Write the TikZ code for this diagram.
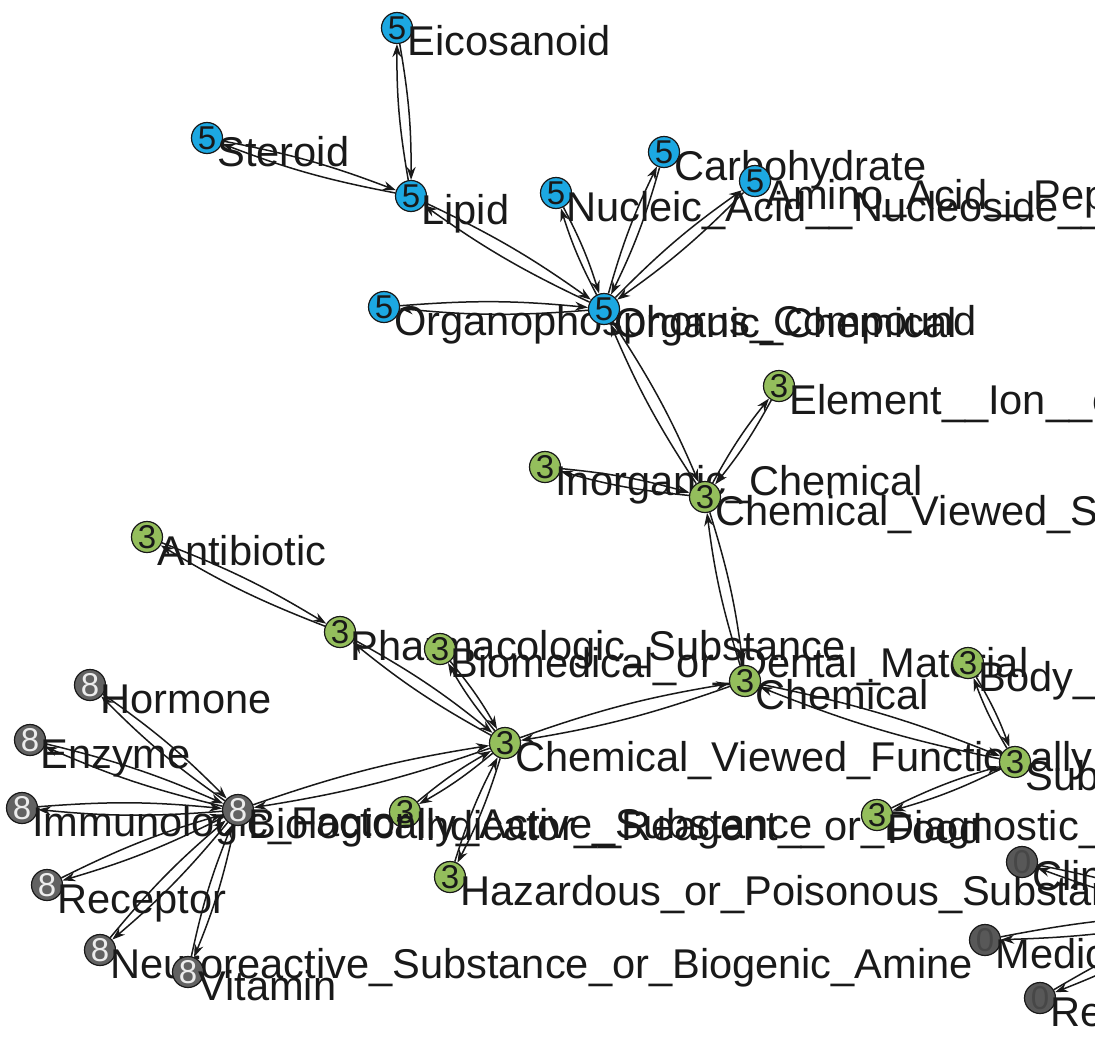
\documentclass[tikz,border=0pt]{standalone}
\usepackage{fontspec}
\setmainfont{Liberation Sans}
\usepackage{tikz}
\usetikzlibrary{arrows.meta,calc,backgrounds}
\definecolor{ink}{RGB}{25,25,25}
\definecolor{lipidblue}{RGB}{28,168,226}
\definecolor{chemgreen}{RGB}{148,190,92}
\definecolor{bioslate}{RGB}{98,98,98}
\definecolor{devslate}{RGB}{88,88,88}
\tikzset{
  link/.style={line width=0.75pt,ink,bend left=5,-{Stealth[length=6.5pt,width=4.5pt]}},
  vtx/.style={circle,draw=ink,line width=0.6pt,minimum size=15.5pt,inner sep=0pt,
    font=\fontsize{16.5}{16.5}\selectfont},
  bluenode/.style={vtx,fill=lipidblue,text=ink},
  greennode/.style={vtx,fill=chemgreen,text=ink},
  graynode/.style={vtx,fill=bioslate,text=white!85!gray},
  darknode/.style={vtx,fill=devslate,text=ink!80},
  tagtext/.style={anchor=base west,inner sep=0pt,text=ink,
    font=\fontsize{20.8}{20.8}\selectfont}
}

\begin{document}
\begin{tikzpicture}[x=0.5pt,y=-0.5pt]
  \useasboundingbox (0,0) rectangle (1095,1038);

  % organic chemicals (5)
  \node[bluenode] (eico) at (397,28) {5};
  \node[tagtext] (eico-t) at ($(eico)+(10,28)$) {Eicosanoid};
  \node[bluenode] (ster) at (207,138) {5};
  \node[tagtext] (ster-t) at ($(ster)+(10,28)$) {Steroid};
  \node[bluenode] (lipid) at (411,196) {5};
  \node[tagtext] (lipid-t) at ($(lipid)+(10,28)$) {Lipid};
  \node[bluenode] (nucl) at (556,193) {5};
  \node[tagtext] (nucl-t) at ($(nucl)+(10,28)$) {Nucleic\_Acid\_\_Nucleoside\_\_or\_Nucleotide};
  \node[bluenode] (carb) at (664,152) {5};
  \node[tagtext] (carb-t) at ($(carb)+(10,28)$) {Carbohydrate};
  \node[bluenode] (amino) at (755,181) {5};
  \node[tagtext] (amino-t) at ($(amino)+(10,28)$) {Amino\_Acid\_\_Peptide\_\_or\_Protein};
  \node[bluenode] (orgph) at (384,307) {5};
  \node[tagtext] (orgph-t) at ($(orgph)+(10,28)$) {Organophosphorus\_Compound};
  \node[bluenode] (organ) at (604,309) {5};
  \node[tagtext] (organ-t) at ($(organ)+(10,28)$) {Organic\_Chemical};

  % chemicals (3)
  \node[greennode] (elem) at (779,386) {3};
  \node[tagtext] (elem-t) at ($(elem)+(10,28)$) {Element\_\_Ion\_\_or\_Isotope};
  \node[greennode] (inorg) at (545,467) {3};
  \node[tagtext] (inorg-t) at ($(inorg)+(10,28)$) {Inorganic\_Chemical};
  \node[greennode] (cvs) at (705,497) {3};
  \node[tagtext] (cvs-t) at ($(cvs)+(10,28)$) {Chemical\_Viewed\_Structurally};
  \node[greennode] (antib) at (147,537) {3};
  \node[tagtext] (antib-t) at ($(antib)+(10,28)$) {Antibiotic};
  \node[greennode] (pharm) at (340,632) {3};
  \node[tagtext] (pharm-t) at ($(pharm)+(10,28)$) {Pharmacologic\_Substance};
  \node[greennode] (biomed) at (440,649) {3};
  \node[tagtext] (biomed-t) at ($(biomed)+(10,28)$) {Biomedical\_or\_Dental\_Material};
  \node[greennode] (chem) at (745,681) {3};
  \node[tagtext] (chem-t) at ($(chem)+(10,28)$) {Chemical};
  \node[greennode] (bodys) at (968,663) {3};
  \node[tagtext] (bodys-t) at ($(bodys)+(10,28)$) {Body\_Substance};
  \node[greennode] (cvf) at (505,743) {3};
  \node[tagtext] (cvf-t) at ($(cvf)+(10,28)$) {Chemical\_Viewed\_Functionally};
  \node[greennode] (subst) at (1015,762) {3};
  \node[tagtext] (subst-t) at ($(subst)+(10,28)$) {Substance};
  \node[greennode] (indic) at (405,812) {3};
  \node[tagtext] (indic-t) at ($(indic)+(10,28)$) {Indicator\_\_Reagent\_\_or\_Diagnostic\_Aid};
  \node[greennode] (food) at (877,815) {3};
  \node[tagtext] (food-t) at ($(food)+(10,28)$) {Food};
  \node[greennode] (hazard) at (450,877) {3};
  \node[tagtext] (hazard-t) at ($(hazard)+(10,28)$) {Hazardous\_or\_Poisonous\_Substance};

  % biologically active (8)
  \node[graynode] (horm) at (90,685) {8};
  \node[tagtext] (horm-t) at ($(horm)+(10,28)$) {Hormone};
  \node[graynode] (enz) at (30,740) {8};
  \node[tagtext] (enz-t) at ($(enz)+(10,28)$) {Enzyme};
  \node[graynode] (immun) at (22,808) {8};
  \node[tagtext] (immun-t) at ($(immun)+(10,28)$) {Immunologic\_Factor};
  \node[graynode] (bas) at (238,810) {8};
  \node[tagtext] (bas-t) at ($(bas)+(10,28)$) {Biologically\_Active\_Substance};
  \node[graynode] (recep) at (47,885) {8};
  \node[tagtext] (recep-t) at ($(recep)+(10,28)$) {Receptor};
  \node[graynode] (neuro) at (100,950) {8};
  \node[tagtext] (neuro-t) at ($(neuro)+(10,28)$) {Neuroreactive\_Substance\_or\_Biogenic\_Amine};
  \node[graynode] (vitam) at (188,972) {8};
  \node[tagtext] (vitam-t) at ($(vitam)+(10,28)$) {Vitamin};

  % devices and drugs (0)
  \node[darknode] (clin) at (1022,862) {0};
  \node[tagtext] (clin-t) at ($(clin)+(10,28)$) {Clinical\_Drug};
  \node[darknode] (meddev) at (985,940) {0};
  \node[tagtext] (meddev-t) at ($(meddev)+(10,28)$) {Medical\_Device};
  \node[darknode] (resdev) at (1040,998) {0};
  \node[tagtext] (resdev-t) at ($(resdev)+(10,28)$) {Research\_Device};
  \coordinate (offhub) at (1210,915);

  \begin{scope}[on background layer]
    \draw[link] (eico) to (lipid);   \draw[link] (lipid) to (eico);
    \draw[link] (ster) to (lipid);   \draw[link] (lipid) to (ster);
    \draw[link] (lipid) to (organ);  \draw[link] (organ) to (lipid);
    \draw[link] (nucl) to (organ);   \draw[link] (organ) to (nucl);
    \draw[link] (carb) to (organ);   \draw[link] (organ) to (carb);
    \draw[link] (amino) to (organ);  \draw[link] (organ) to (amino);
    \draw[link] (orgph) to (organ);  \draw[link] (organ) to (orgph);
    \draw[link] (organ) to (cvs);    \draw[link] (cvs) to (organ);
    \draw[link] (inorg) to (cvs);    \draw[link] (cvs) to (inorg);
    \draw[link] (elem) to (cvs);     \draw[link] (cvs) to (elem);
    \draw[link] (cvs) to (chem);     \draw[link] (chem) to (cvs);
    \draw[link] (chem) to (cvf);     \draw[link] (cvf) to (chem);
    \draw[link] (chem) to (subst);   \draw[link] (subst) to (chem);
    \draw[link] (bodys) to (subst);  \draw[link] (subst) to (bodys);
    \draw[link] (food) to (subst);   \draw[link] (subst) to (food);
    \draw[link] (antib) to (pharm);  \draw[link] (pharm) to (antib);
    \draw[link] (pharm) to (cvf);    \draw[link] (cvf) to (pharm);
    \draw[link] (biomed) to (cvf);   \draw[link] (cvf) to (biomed);
    \draw[link] (indic) to (cvf);    \draw[link] (cvf) to (indic);
    \draw[link] (hazard) to (cvf);   \draw[link] (cvf) to (hazard);
    \draw[link] (bas) to (cvf);      \draw[link] (cvf) to (bas);
    \draw[link] (horm) to (bas);     \draw[link] (bas) to (horm);
    \draw[link] (enz) to (bas);      \draw[link] (bas) to (enz);
    \draw[link] (immun) to (bas);    \draw[link] (bas) to (immun);
    \draw[link] (recep) to (bas);    \draw[link] (bas) to (recep);
    \draw[link] (neuro) to (bas);    \draw[link] (bas) to (neuro);
    \draw[link] (vitam) to (bas);    \draw[link] (bas) to (vitam);
    \draw[link] (clin) to (offhub);  \draw[link] (offhub) to (clin);
    \draw[link] (meddev) to (offhub); \draw[link] (offhub) to (meddev);
    \draw[link] (resdev) to (offhub); \draw[link] (offhub) to (resdev);
  \end{scope}
\end{tikzpicture}
\end{document}
